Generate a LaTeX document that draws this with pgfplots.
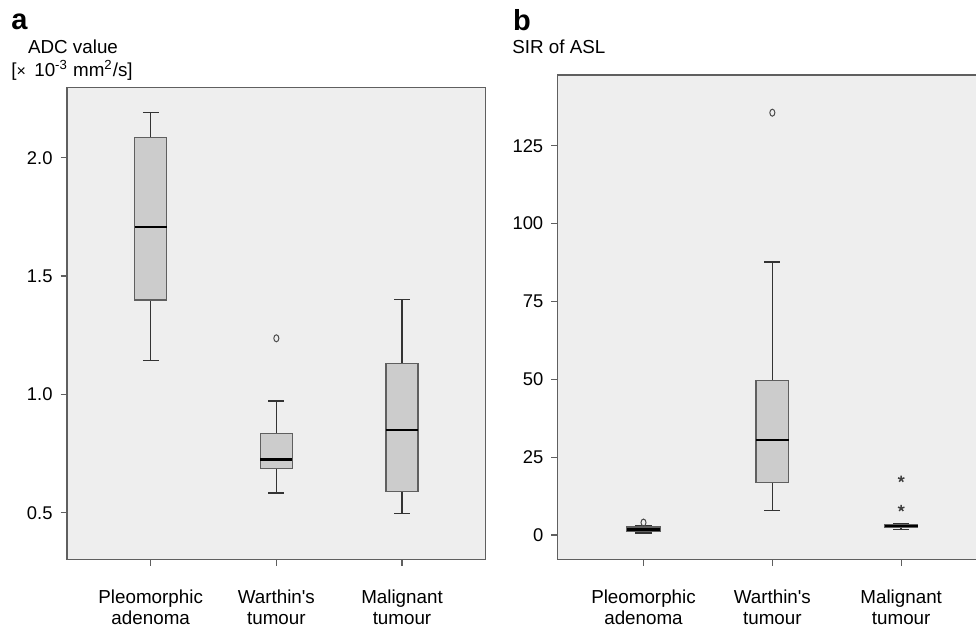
\documentclass[border=0pt]{standalone}
\usepackage{pgfplots}
\pgfplotsset{compat=1.18}
\usepgfplotslibrary{statistics}
\usepackage{fontspec}
\setmainfont{Liberation Sans}
\definecolor{bggray}{RGB}{238,238,238}
\definecolor{boxgray}{RGB}{204,204,204}
\definecolor{linegray}{RGB}{95,95,95}
\pgfplotsset{
  panel/.style={
    scale only axis,
    anchor=south west,
    axis background/.style={fill=bggray},
    axis line style={draw=linegray, line width=0.7pt},
    tick style={draw=linegray, line width=0.6pt},
    tick align=outside,
    major tick length=3.2pt,
    xtick pos=bottom, ytick pos=left,
    xmin=0.334, xmax=3.666,
    xtick={1,2,3},
    xticklabels={{Pleomorphic\\adenoma},{Warthin\textquotesingle s\\tumour},{Malignant\\tumour}},
    xticklabel style={align=center, font=\fontsize{9.4}{10.8}\selectfont, yshift=-8.5pt},
    yticklabel style={font=\fontsize{9.2}{10}\selectfont, xshift=-0.5pt},
    /pgf/number format/assume math mode=true,
    boxplot/draw direction=y,
    boxplot/every box/.style={fill=boxgray, draw=linegray, line width=0.6pt},
    boxplot/every median/.style={draw=black, line width=1.15pt},
    boxplot/every whisker/.style={draw=black!80, line width=0.7pt},
  },
  bx/.style={boxplot prepared={#1, box extend=0.255, whisker extend=0.125}},
  outl/.style={mark=o, mark size=1.75pt, mark options={draw=black!70, xscale=0.72, line width=0.5pt, solid}},
  starm/.style={mark=star, mark size=1.7pt, mark options={draw=black!75, line width=0.75pt, solid}},
}
\begin{document}
\begin{tikzpicture}
\useasboundingbox (0,0) rectangle (488pt,314pt);
\clip (0,0) rectangle (488pt,314pt);
% Panel a
\begin{axis}[panel, at={(33.5pt,34.35pt)}, width=209.35pt, height=235.8pt,
  ymin=0.303, ymax=2.296, ytick={0.5,1.0,1.5,2.0},
  yticklabel style={/pgf/number format/fixed, /pgf/number format/fixed zerofill, /pgf/number format/precision=1}]
\addplot[bx={draw position=1, lower whisker=1.144, lower quartile=1.399, median=1.708, upper quartile=2.085, upper whisker=2.19}] coordinates {};
\addplot[bx={draw position=2, lower whisker=0.584, lower quartile=0.686, median=0.725, upper quartile=0.835, upper whisker=0.972}, outl] coordinates {(0,1.237)};
\addplot[bx={draw position=3, lower whisker=0.496, lower quartile=0.590, median=0.850, upper quartile=1.129, upper whisker=1.401}] coordinates {};
\end{axis}
% Panel b
\begin{axis}[panel, at={(278.85pt,34.35pt)}, width=214.65pt, height=242.15pt,
  ymin=-7.8, ymax=147.7, ytick={0,25,50,75,100,125}]
\addplot[bx={draw position=1, lower whisker=0.7, lower quartile=1.1, median=1.8, upper quartile=2.6, upper whisker=2.9}, outl] coordinates {(0,4.0)};
\addplot[bx={draw position=2, lower whisker=7.9, lower quartile=16.8, median=30.6, upper quartile=49.6, upper whisker=87.7}, outl] coordinates {(0,135.6)};
\addplot[bx={draw position=3, lower whisker=1.7, lower quartile=2.3, median=2.9, upper quartile=3.5, upper whisker=3.6}, starm] coordinates {(0,8.6) (0,18.0)};
\end{axis}
% titles
\node[anchor=base west, inner sep=0pt, font=\fontsize{14.5}{16}\selectfont\bfseries] at (5.5pt,299pt) {a};
\node[anchor=base west, inner sep=0pt, font=\fontsize{9.4}{11}\selectfont] at (13.85pt,287.35pt) {ADC value};
\node[anchor=base west, inner sep=0pt, font=\fontsize{9.4}{11}\selectfont] at (5.5pt,275.65pt) {[{\fontsize{8}{9}\selectfont×}\ \,10\textsuperscript{-3} mm\textsuperscript{2}/s]};
\node[anchor=base west, inner sep=0pt, font=\fontsize{14.5}{16}\selectfont\bfseries] at (256.35pt,298.65pt) {b};
\node[anchor=base west, inner sep=0pt, font=\fontsize{9.4}{11}\selectfont] at (256pt,287.35pt) {SIR of ASL};
\end{tikzpicture}
\end{document}
